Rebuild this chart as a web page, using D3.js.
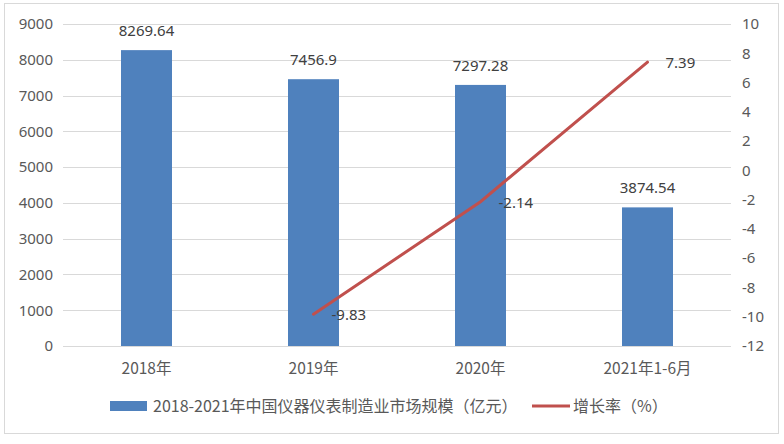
<!DOCTYPE html>
<html><head><meta charset="utf-8">
<script src="https://cdn.jsdelivr.net/npm/d3@7"></script>
<style>body{margin:0;background:#fff}svg{display:block}text{font-family:"Noto Sans CJK SC","Noto Sans",sans-serif}</style>
</head><body><svg id="c" width="784" height="444"></svg>
<script>
const categories = ["2018年","2019年","2020年","2021年1-6月"];
const marketSize = [8269.64, 7456.9, 7297.28, 3874.54];
const growthRate = [null, -9.83, -2.14, 7.39];
const leftTicks = [0,1000,2000,3000,4000,5000,6000,7000,8000,9000];
const rightTicks = [-12,-10,-8,-6,-4,-2,0,2,4,6,8,10];
const barName = "2018-2021年中国仪器仪表制造业市场规模（亿元）";
const lineName = "增长率（%）";

const NUMF = "'Noto Sans', sans-serif";
const svg = d3.select("#c");
svg.append("rect").attr("x",4.5).attr("y",3.5).attr("width",774).attr("height",430)
  .attr("fill","#fff").attr("stroke","#d9d9d9");

const L=63, R=731, T=24, B=346;
const x = d3.scaleBand().domain(categories).range([L,R]);
const yL = d3.scaleLinear().domain([0,9000]).range([B,T]);
const yR = d3.scaleLinear().domain([-12,10]).range([B,T]);

// gridlines
svg.append("g").selectAll("line").data(leftTicks).join("line")
  .attr("x1",L).attr("x2",R).attr("y1",d=>Math.round(yL(d))+0.5).attr("y2",d=>Math.round(yL(d))+0.5)
  .attr("stroke","#d9d9d9").attr("stroke-width",1);

// left axis labels
const axL = svg.append("g").attr("transform",`translate(${L},0)`)
  .call(d3.axisLeft(yL).tickValues(leftTicks).tickFormat(d=>String(d)).tickSize(0).tickPadding(10));
axL.select(".domain").remove();
axL.selectAll("text").attr("fill","#595959").style("font-size","15px").style("font-family",NUMF);

// right axis labels
const axR = svg.append("g").attr("transform",`translate(${R},0)`)
  .call(d3.axisRight(yR).tickValues(rightTicks).tickFormat(d=>String(d)).tickSize(0).tickPadding(11));
axR.select(".domain").remove();
axR.selectAll("text").attr("fill","#595959").style("font-size","15px").style("font-family",NUMF);

// category labels
svg.append("g").selectAll("text").data(categories).join("text")
  .attr("x",d=>x(d)+x.bandwidth()/2).attr("y",374).attr("text-anchor","middle")
  .attr("fill","#595959").style("font-size","15.5px").text(d=>d);

// bars
const bw = 51;
svg.append("g").selectAll("rect").data(marketSize).join("rect")
  .attr("x",(d,i)=>x(categories[i])+x.bandwidth()/2-bw/2).attr("width",bw)
  .attr("y",d=>yL(d)).attr("height",d=>B-yL(d)).attr("fill","#4f81bd");

// bar labels
svg.append("g").selectAll("text").data(marketSize).join("text")
  .attr("x",(d,i)=>x(categories[i])+x.bandwidth()/2).attr("y",d=>yL(d)-14)
  .attr("text-anchor","middle").attr("fill","#404040").style("font-size","15px")
  .style("font-family",NUMF).text(d=>d);

// line
const pts = growthRate.map((v,i)=>({v,c:categories[i]})).filter(d=>d.v!==null);
const line = d3.line().x(d=>x(d.c)+x.bandwidth()/2).y(d=>yR(d.v));
svg.append("path").datum(pts).attr("d",line).attr("fill","none")
  .attr("stroke","#c0504d").attr("stroke-width",3).attr("stroke-linecap","round");

svg.append("g").selectAll("text").data(pts).join("text")
  .attr("x",d=>x(d.c)+x.bandwidth()/2+18).attr("y",d=>yR(d.v)+6)
  .attr("fill","#404040").style("font-size","15px")
  .style("font-family",NUMF).text(d=>d.v);

// legend
const lg = svg.append("g");
lg.append("rect").attr("x",110).attr("y",401).attr("width",37).attr("height",10).attr("fill","#4f81bd");
lg.append("text").attr("x",153).attr("y",412).attr("fill","#595959").style("font-size","16px").text(barName);
lg.append("line").attr("x1",532).attr("x2",570).attr("y1",406).attr("y2",406).attr("stroke","#c0504d").attr("stroke-width",3);
lg.append("text").attr("x",573).attr("y",412).attr("fill","#595959").style("font-size","16px").text(lineName);
</script></body></html>
